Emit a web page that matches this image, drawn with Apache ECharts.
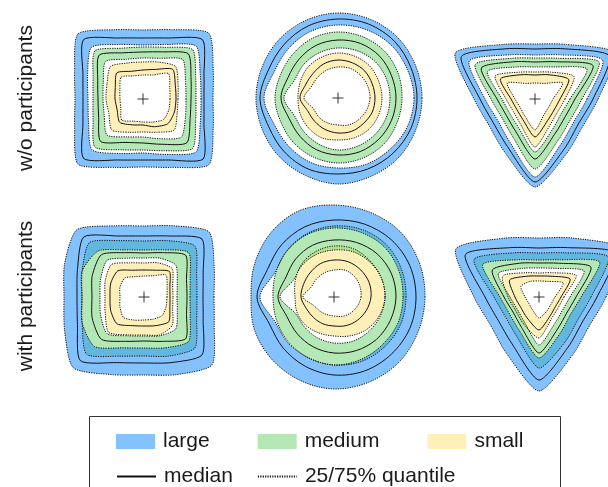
<!DOCTYPE html>
<html><head><meta charset="utf-8">
<script src="https://cdn.jsdelivr.net/npm/echarts@6/dist/echarts.min.js"></script>
<style>html,body{margin:0;padding:0;background:#fff}#c{width:608px;height:487px}</style>
</head><body><div id="c"></div>
<script>
// ---------- data ----------
const sizeNames = ['large', 'medium', 'small'];
const rowLabels = ['w/o participants', 'with participants'];
const lineNames = ['25/75% quantile', 'median', '25/75% quantile'];
// angles (degrees, counter-clockwise from the right) at which radii were read
const ANG16 = [0,22.5,45,67.5,90,112.5,135,157.5,180,202.5,225,247.5,270,292.5,315,337.5];
const ANG12 = [0,30,60,90,120,150,180,210,240,270,300,330];

// each array: [q25, median, q75] radii
const sqNoLarge = [
  [58,62,75,59,54,59,73,60,55,59,72,59,54,60,75,62],
  [61,66,84,66,61,66,84,65,60,65,84,66,61,66,85,66],
  [70,76,93,75,69,75,92,74,68,74,92,74,68,74,93,76]];
const sqNoMedium = [
  [43,46,56,44,41,43,53,43,40,42,51,41,38,43,54,46],
  [48,52,64,51,47,50,62,49,45,48,60,47,44,49,62,51],
  [53,57,70,56,52,55,68,54,50,54,68,55,51,56,70,57]];
const sqNoSmall = [
  [27,29,36,26,24,25,31,25,23,24,30,24,23,25,29,28],
  [33,35,42,32,29,30,37,30,28,28,33,28,26,30,35,34],
  [35,38,46,40,37,39,46,39,37,37,44,36,33,36,44,37]];

const ciNoLarge = [
  [76,75,75,74,73,72,70,69,74,69,69,70,70,72,73,75],
  [79,79,80,80,79,78,76,75,78,75,76,77,76,77,78,79],
  [84,84,85,85,85,84,83,82,82,82,83,84,86,85,85,84]];
const ciNoMedium = [
  [52,52,52,51,50,49,48,47,54,47,48,50,52,52,52,52],
  [58,58,59,59,58,57,55,54,57,53,54,56,57,58,58,58],
  [64,65,66,66,66,65,63,62,63,62,63,64,65,65,65,64]];
const ciNoSmall = [
  [32,32,32,32,31,30,29,29,34,27,27,27,27,29,30,31],
  [37,37,38,38,38,37,35,35,38,33,33,34,35,36,36,37],
  [44,44,45,45,45,44,43,41,40,41,42,43,42,43,44,44]];

const trNoLarge = [
  [52,78,51,44,51,76,50,43,50,78,52,45],
  [58,86,58,50,58,85,55,48,55,83,58,50],
  [63,92,63,55,63,92,61,53,61,88,63,55]];
const trNoMedium = [
  [35,60,37,32,37,55,33,29,33,53,35,30],
  [40,67,43,37,43,62,38,33,38,60,40,35],
  [47,74,47,41,47,69,44,38,44,70,47,41]];
const trNoSmall = [
  [18,32,18,16,18,32,20,17,20,31,18,16],
  [25,39,28,24,28,40,24,21,24,38,25,22],
  [30,45,31,27,31,46,29,25,29,48,30,26]];

const sqWithLarge = [
  [46,50,63,51,47,51,65,67,62,67,70,55,51,55,63,50],
  [59,64,82,66,61,66,85,72,67,72,90,71,66,71,82,64],
  [70,76,92,77,71,77,95,86,80,86,100,84,78,84,96,76]];
const sqWithMedium = [
  [33,36,45,42,39,42,52,47,44,47,52,42,39,42,45,36],
  [43,46,59,48,44,48,60,56,52,56,60,48,44,48,59,46],
  [53,57,72,61,56,61,77,67,62,67,81,64,59,64,72,57]];
const sqWithSmall = [
  [23,25,31,23,21,22,27,26,24,26,29,25,23,24,26,24],
  [26,28,36,29,27,29,37,36,34,36,38,31,29,31,35,28],
  [29,31,40,37,34,37,46,42,39,42,50,41,38,41,40,31]];

const ciWithLarge = [
  [69,70,71,70,69,68,66,64,74,64,65,66,68,68,68,69],
  [82,82,81,79,77,76,74,72,77,70,72,75,78,80,81,82],
  [91,92,93,92,92,93,90,86,83,86,88,90,92,92,92,91]];
const ciWithMedium = [
  [51,51,50,49,47,46,45,44,54,42,42,44,46,48,49,50],
  [62,62,61,59,57,56,54,52,56,51,52,54,56,58,60,61],
  [72,73,74,73,71,69,66,63,61,62,64,66,68,70,71,72]];
const ciWithSmall = [
  [27,28,29,29,27,26,25,25,31,22,20,19,19,21,23,25],
  [37,38,38,38,37,36,34,33,33,30,29,29,29,31,33,35],
  [51,51,51,52,51,49,46,42,39,40,40,39,39,42,46,49]];

const trWithLarge = [
  [42,70,43,37,43,65,39,34,39,61,42,36],
  [58,88,57,49,57,85,54,47,54,83,58,50],
  [67,96,68,59,68,96,65,56,65,94,67,58]];
const trWithMedium = [
  [31,52,33,29,33,47,29,25,29,48,31,27],
  [37,60,39,34,39,54,35,30,35,56,37,32],
  [52,80,51,44,51,75,45,39,45,71,52,45]];
const trWithSmall = [
  [16,28,18,16,18,21,14,12,14,21,16,14],
  [22,36,24,21,24,34,24,21,24,33,22,19],
  [25,43,28,24,28,42,31,27,31,41,25,22]];

// ---------- layout / style ----------
const panels = [
  {ang: ANG16, sets: [sqNoLarge, sqNoMedium, sqNoSmall]},
  {ang: ANG16, sets: [ciNoLarge, ciNoMedium, ciNoSmall]},
  {ang: ANG12, sets: [trNoLarge, trNoMedium, trNoSmall]},
  {ang: ANG16, sets: [sqWithLarge, sqWithMedium, sqWithSmall]},
  {ang: ANG16, sets: [ciWithLarge, ciWithMedium, ciWithSmall]},
  {ang: ANG12, sets: [trWithLarge, trWithMedium, trWithSmall]}
];
const smoothness = [0.7, 1, 0.7, 0.7, 1, 0.7];
const centers = [[143,99],[338,98],[535,99],[144,297],[334,297],[539,297]];
const HALF = 60;
const bandColors = ['rgba(30,144,255,0.55)', 'rgba(40,190,40,0.35)', 'rgba(255,200,0,0.27)'];
const LINE_COLOR = '#111';
const DOT = [1.2, 1.2];
const FONT = 'Liberation Sans, Arial, Helvetica, sans-serif';

function toXY(ang, radii) {
  return radii.map((r, k) => {
    const t = ang[k] * Math.PI / 180;
    return [r * Math.cos(t), r * Math.sin(t)];
  });
}
// closed curve through the given pixel points (cardinal spline rendering)
function curve(pts, k) {
  const n = pts.length;
  const f = q => q[0].toFixed(2) + ' ' + q[1].toFixed(2);
  let d = 'M ' + f(pts[0]);
  for (let i = 0; i < n; i++) {
    const p0 = pts[(i - 1 + n) % n], p1 = pts[i], p2 = pts[(i + 1) % n], p3 = pts[(i + 2) % n];
    const c1 = [p1[0] + (p2[0] - p0[0]) * k / 6, p1[1] + (p2[1] - p0[1]) * k / 6];
    const c2 = [p2[0] - (p3[0] - p1[0]) * k / 6, p2[1] - (p3[1] - p1[1]) * k / 6];
    d += ' C ' + f(c1) + ' ' + f(c2) + ' ' + f(p2);
  }
  return d + ' Z';
}

const grids = [], xAxes = [], yAxes = [];
// legend-only line series (define the legend line icons)
const series = [
  {type: 'line', name: 'median', data: [], symbol: 'none', xAxisIndex: 0, yAxisIndex: 0,
   lineStyle: {color: LINE_COLOR, width: 1}},
  {type: 'line', name: '25/75% quantile', data: [], symbol: 'none', xAxisIndex: 0, yAxisIndex: 0,
   lineStyle: {color: LINE_COLOR, width: 1, type: DOT}}
];
panels.forEach((p, i) => {
  grids.push({left: centers[i][0] - HALF, top: centers[i][1] - HALF, width: 2 * HALF, height: 2 * HALF,
              outerBoundsMode: 'none', containLabel: false});
  xAxes.push({type: 'value', gridIndex: i, min: -HALF, max: HALF, show: false});
  yAxes.push({type: 'value', gridIndex: i, min: -HALF, max: HALF, show: false});
  const sm = smoothness[i];
  // bands: small first, large on top
  [2, 1, 0].forEach(s => {
    const set = p.sets[s];
    series.push({
      type: 'custom', name: sizeNames[s], coordinateSystem: 'cartesian2d',
      xAxisIndex: i, yAxisIndex: i, data: [[0, 0]], silent: true, clip: false, z: 1,
      itemStyle: {color: bandColors[s]},
      renderItem: function (params, api) {
        const outer = toXY(p.ang, set[2]).map(pt => api.coord(pt));
        const inner = toXY(p.ang, set[0]).map(pt => api.coord(pt)).reverse();
        const d = curve(outer, sm) + ' ' + curve(inner, sm);
        return {type: 'path', shape: {pathData: d}, style: {fill: bandColors[s], stroke: null}};
      }
    });
  });
  // contour lines
  [0, 1, 2].forEach(s => {
    [0, 1, 2].forEach(k => {
      const radii = p.sets[s][k];
      series.push({
        type: 'custom', name: lineNames[k], coordinateSystem: 'cartesian2d',
        xAxisIndex: i, yAxisIndex: i, data: [[0, 0]], silent: true, clip: false, z: 3,
        renderItem: function (params, api) {
          const pts = toXY(p.ang, radii).map(pt => api.coord(pt));
          return {type: 'path', shape: {pathData: curve(pts, sm)},
                  style: {fill: 'none', stroke: LINE_COLOR, lineWidth: 1, lineDash: k === 1 ? null : DOT}};
        }
      });
    });
  });
  // centre marker
  series.push({
    type: 'scatter', name: 'centre', xAxisIndex: i, yAxisIndex: i, data: [[0, 0]],
    symbol: 'path://M5,0h1v5h5v1h-5v5h-1v-5h-5v-1h5z', symbolSize: 11, silent: true, z: 4,
    itemStyle: {color: '#000'}
  });
});

const legendText = {fontSize: 21, color: '#1a1a1a', fontFamily: FONT};
const option = {
  animation: false,
  grid: grids, xAxis: xAxes, yAxis: yAxes, series: series,
  legend: [
    {
      data: sizeNames.map((n, s) => ({name: n, icon: 'rect', itemStyle: {color: bandColors[s]}})),
      left: 116, top: 431, itemWidth: 39, itemHeight: 15, itemGap: 48, padding: 0,
      selectedMode: false, textStyle: Object.assign({padding: [0, 0, 0, 3]}, legendText)
    },
    {
      data: [{name: 'median', itemStyle: {opacity: 0}}, {name: '25/75% quantile', itemStyle: {opacity: 0}}],
      left: 116, top: 466, itemWidth: 39, itemHeight: 15, itemGap: 24, padding: 0,
      selectedMode: false, textStyle: Object.assign({padding: [0, 0, 6, 3]}, legendText)
    }
  ],
  graphic: [
    {type: 'rect', shape: {x: 89.5, y: 416.5, width: 471, height: 90},
     style: {fill: 'none', stroke: '#333', lineWidth: 1}, silent: true, z: 0},
    {type: 'text', x: 26, y: 98, rotation: Math.PI / 2,
     style: {text: rowLabels[0], font: '21px ' + FONT, fill: '#1a1a1a', textAlign: 'center', textVerticalAlign: 'middle'}},
    {type: 'text', x: 26, y: 296, rotation: Math.PI / 2,
     style: {text: rowLabels[1], font: '21px ' + FONT, fill: '#1a1a1a', textAlign: 'center', textVerticalAlign: 'middle'}}
  ]
};
const chart = echarts.init(document.getElementById('c'), null, {renderer: 'canvas'});
chart.setOption(option);
</script>
</body></html>
